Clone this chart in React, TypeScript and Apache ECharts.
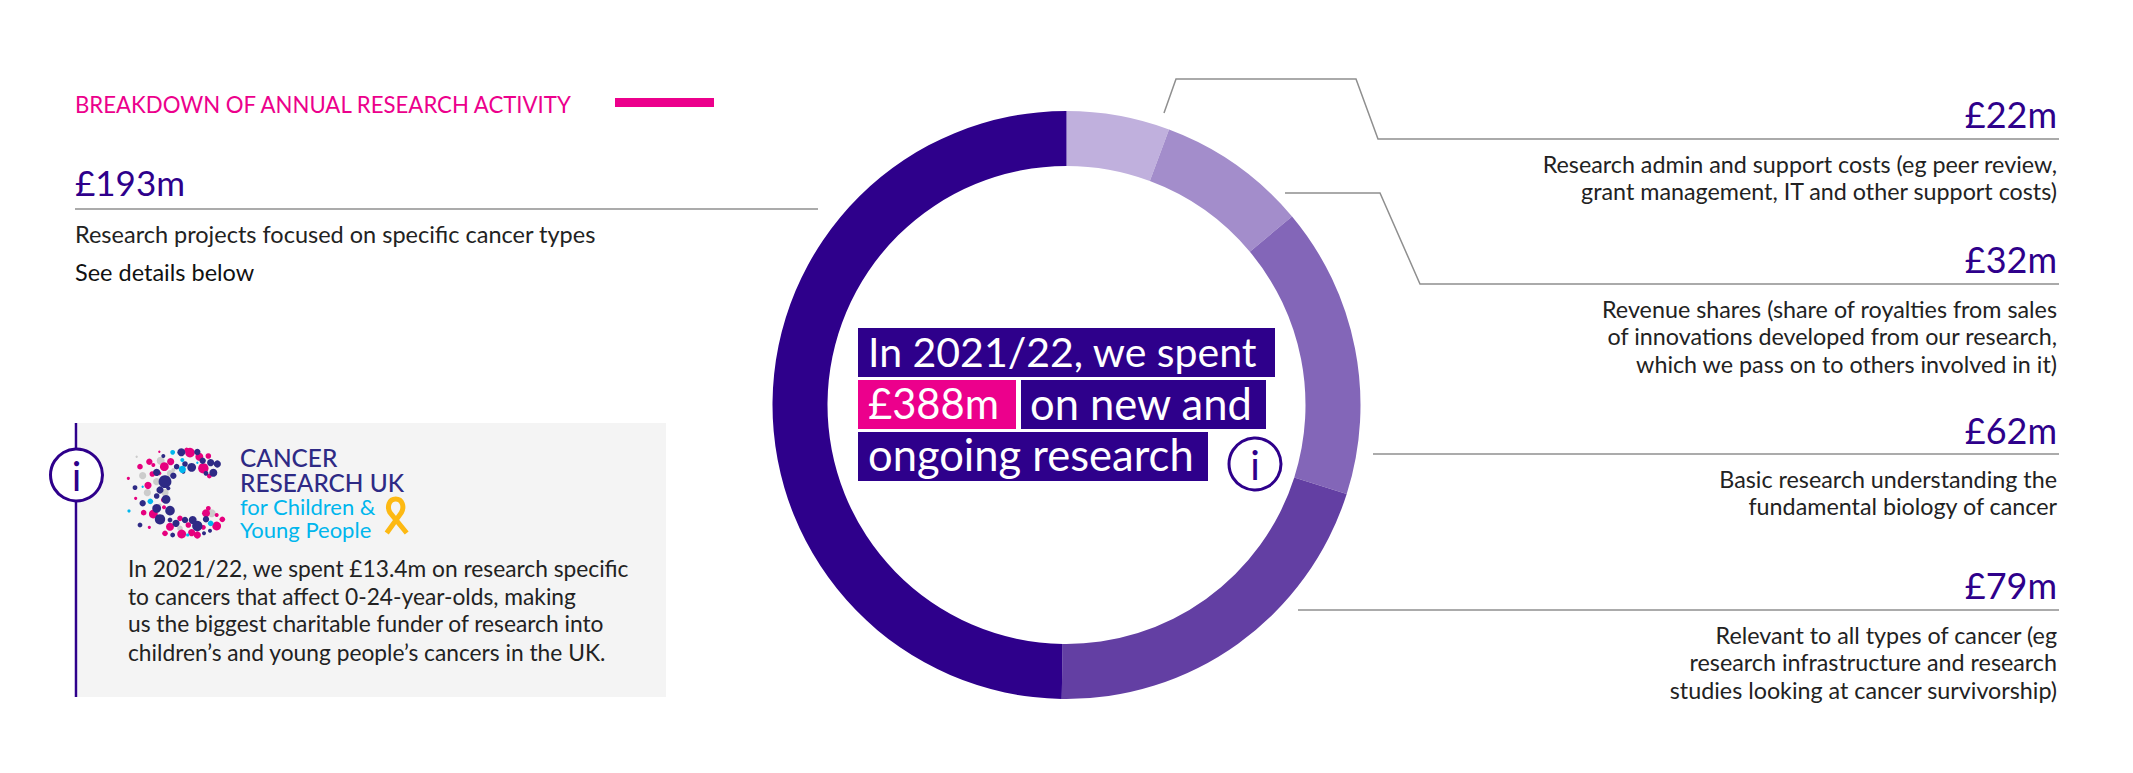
import React, { useEffect, useRef } from "react";
import * as echarts from "echarts";

const NAVY = "#2E008B";
const PINK = "#EC008C";
const INK = "#222222";
const RULE = "#8f8f8f";
const FONT = "Lato";

const sliceNames = ["Research admin and support costs", "Revenue shares", "Basic research", "Relevant to all types of cancer", "Research projects focused on specific cancer types"];
const sliceValues = [22, 32, 62, 79, 193];
const sliceColors = ["#C0B0DD", "#A38DCB", "#8366B8", "#633FA3", "#2E008B"];

const rightAmounts = ["£22m", "£32m", "£62m", "£79m"];
const rightAmountY = [113.5, 258.5, 430, 585];
const rightLines = [
  ["Research admin and support costs (eg peer review,", "grant management, IT and other support costs)"],
  ["Revenue shares (share of royalties from sales", "of innovations developed from our research,", "which we pass on to others involved in it)"],
  ["Basic research understanding the", "fundamental biology of cancer"],
  ["Relevant to all types of cancer (eg", "research infrastructure and research", "studies looking at cancer survivorship)"],
];
const rightLineY = [[164, 191], [309, 336, 364], [479, 506], [635, 662, 690]];

const panelLines = [
  "In 2021/22, we spent £13.4m on research specific",
  "to cancers that affect 0-24-year-olds, making",
  "us the biggest charitable funder of research into",
  "children’s and young people’s cancers in the UK.",
];
const panelLineY = [568, 596, 623.5, 652];

const logoPink = [[210,38,12],[238,50,10],[265,48,7],[152,65,9],[133,80,11],[88,65,8],[100,75,5],[60,80,7],[97,102,7],[25,115,4],[84,136,9],[47,175,4],[71,218,7],[88,262,4],[100,222,11],[132,202,5],[130,180,6],[135,280,7],[150,260,10],[185,282,11],[215,278,9],[232,285,9],[180,235,7],[205,255,7],[258,220,10],[265,205,6],[290,258,11],[307,238,7],[290,225,5],[250,85,13],[268,108,6],[118,35,3],[118,100,5],[250,262,6],[200,30,6]];
const logoNavy = [[184,37,10],[232,36,8],[130,48,5],[170,80,7],[215,82,11],[195,72,7],[248,62,8],[272,68,9],[292,72,9],[280,98,10],[258,100,6],[110,97,9],[135,125,16],[160,107,8],[120,150,9],[45,143,6],[110,168,7],[68,190,8],[138,178,11],[110,205,11],[150,212,12],[120,238,13],[150,240,6],[168,250,9],[60,255,6],[195,240,8],[218,240,10],[232,258,13],[258,238,8],[158,285,6],[252,280,5],[270,272,5],[190,95,5],[145,145,5]];
const logoCyan = [[158,37,6],[187,60,5],[187,88,9],[68,140,3],[91,184,7],[27,213,4],[272,250,7],[203,285,4],[232,68,3]];
const logoGrey = [[122,62,10],[135,78,5],[68,107,9],[110,125,9],[82,158,9],[135,158,9],[150,100,8],[160,90,5],[50,50,3],[275,220,10],[180,265,7],[120,195,4],[308,240,3]];

const ribbonPath = "M12.7 43 L27.3 22.7 C30.7 16.7 28.3 9 21.7 9 C15 9 12.7 16.7 16 22.7 L32.7 43";

function txt(text: string, x: number, y: number, fontSize: number, fill: string, align = "left", fontWeight: any = 400, lineHeight?: number) {
  return {
    type: "text",
    style: { text, x, y, fontSize, fontFamily: FONT, fontWeight, fill, align, verticalAlign: "middle", lineHeight },
    silent: true,
  };
}
function seg(points: number[][], lineWidth = 1.5) {
  return { type: "polyline", shape: { points }, style: { stroke: RULE, lineWidth, fill: "none" }, silent: true };
}
function box(x: number, y: number, width: number, height: number, fill: string) {
  return { type: "rect", shape: { x, y, width, height }, style: { fill }, silent: true };
}
function info(cx: number, cy: number) {
  return [
    { type: "circle", shape: { cx, cy, r: 26 }, style: { fill: "#ffffff", stroke: NAVY, lineWidth: 3 }, silent: true },
    txt("i", cx, cy + 1, 40, NAVY, "center"),
  ];
}
function dots(list: number[][], fill: string) {
  return list.map(([x, y, r]) => ({
    type: "circle",
    shape: { cx: 120 + x / 3, cy: 440 + y / 3, r: (r * 1.2) / 3 },
    style: { fill },
    silent: true,
  }));
}

export default function App() {
  const ref = useRef<HTMLDivElement>(null);
  useEffect(() => {
    if (!ref.current) return;
    echarts.graphic.registerShape("ribbon", echarts.graphic.extendPath(ribbonPath as any, {}) as any);
    const chart = echarts.init(ref.current, undefined, { renderer: "svg" });
    const right: any[] = [];
    rightAmounts.forEach((a, i) => {
      right.push(txt(a, 2057, rightAmountY[i], 36, NAVY, "right"));
      rightLines[i].forEach((l, j) => right.push(txt(l, 2057, rightLineY[i][j], 23.3, INK, "right")));
    });
    chart.setOption({
      animation: false,
      backgroundColor: "#ffffff",
      series: [
        {
          type: "pie",
          center: [1066.5, 405],
          radius: [239, 294],
          startAngle: 90,
          clockwise: true,
          label: { show: false },
          labelLine: { show: false },
          silent: true,
          data: sliceNames.map((name, i) => ({ name, value: sliceValues[i], itemStyle: { color: sliceColors[i] } })),
        },
      ],
      graphic: {
        elements: [
          txt("BREAKDOWN OF ANNUAL RESEARCH ACTIVITY", 75, 104, 22.2, PINK),
          box(615, 98, 99, 9, PINK),
          txt("£193m", 75, 182, 35, NAVY),
          seg([[75, 209], [818, 209]]),
          txt("Research projects focused on specific cancer types", 75, 234, 23.5, INK),
          txt("See details below", 75, 272, 23.5, "#111111"),

          box(78, 423, 588, 274, "#F4F4F4"),
          { type: "line", shape: { x1: 76, y1: 423, x2: 76, y2: 697 }, style: { stroke: NAVY, lineWidth: 2.5 }, silent: true },
          ...info(76.5, 475),
          ...dots(logoGrey, "#CCCCCC"),
          ...dots(logoPink, "#E6007E"),
          ...dots(logoNavy, "#2E2A85"),
          ...dots(logoCyan, "#00B6ED"),
          txt("CANCER\nRESEARCH UK", 240, 470, 24.4, "#2E2A85", "left", 500, 25),
          txt("for Children &\nYoung People", 240, 518, 22, "#00B6ED", "left", 400, 23),
          { type: "ribbon", x: 374, y: 490, style: { fill: "none", stroke: "#FDB913", lineWidth: 5 }, silent: true },
          ...panelLines.map((l, i) => txt(l, 128, panelLineY[i], 22.75, INK)),

          box(858, 328, 417, 49, NAVY),
          box(858, 380, 158, 49, PINK),
          box(1021, 380, 245, 49, NAVY),
          box(858, 432, 350, 49, NAVY),
          txt("In 2021/22, we spent", 868, 351, 41, "#ffffff"),
          txt("£388m", 868, 403, 41.7, "#ffffff"),
          txt("on new and", 1030, 403, 43.5, "#ffffff"),
          txt("ongoing research", 868, 454, 43.5, "#ffffff"),
          ...info(1255, 464),

          seg([[2059, 139], [1378, 139], [1356, 79], [1176, 79], [1164, 113]]),
          seg([[2059, 284], [1420, 284], [1380, 193], [1285, 193]]),
          seg([[2059, 454], [1373, 454]]),
          seg([[2059, 610], [1298, 610]]),
          ...right,
        ],
      },
    } as any);
    return () => chart.dispose();
  }, []);
  return <div ref={ref} style={{ position: "absolute", left: 0, top: 0, width: 2133, height: 773 }} />;
}
